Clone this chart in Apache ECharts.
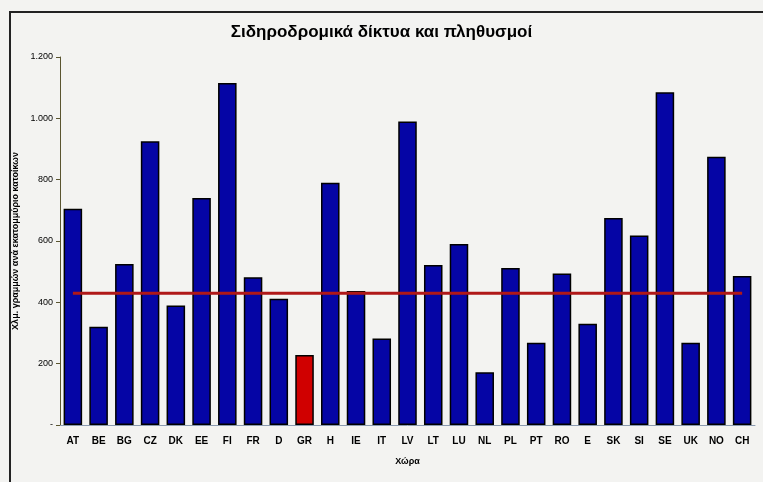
<!DOCTYPE html>
<html>
<head>
<meta charset="utf-8">
<script src="https://cdn.jsdelivr.net/npm/echarts@6/dist/echarts.min.js"></script>
<style>
  html, body { margin: 0; padding: 0; background: #f3f3f1; }
  #chart { width: 763px; height: 482px; }
</style>
</head>
<body>
<div id="chart"></div>
<script>
const countries = ['AT', 'BE', 'BG', 'CZ', 'DK', 'EE', 'FI', 'FR', 'D', 'GR', 'H', 'IE', 'IT', 'LV', 'LT', 'LU', 'NL', 'PL', 'PT', 'RO', 'E', 'SK', 'SI', 'SE', 'UK', 'NO', 'CH']
const railPerPop = [705, 320, 525, 925, 390, 740, 1115, 482, 412, 228, 790, 437, 282, 990, 522, 590, 172, 512, 268, 494, 330, 675, 618, 1085, 268, 875, 486]
const avgLine = [430, 430, 430, 430, 430, 430, 430, 430, 430, 430, 430, 430, 430, 430, 430, 430, 430, 430, 430, 430, 430, 430, 430, 430, 430, 430, 430]
const highlight = 'GR'

const chart = echarts.init(document.getElementById('chart'))

const option = {
  backgroundColor: '#f3f3f1',
  animation: false,
  title: {
    text: 'Σιδηροδρομικά δίκτυα και πληθυσμοί',
    left: 'center',
    top: 19,
    textStyle: { fontFamily: 'Liberation Sans', fontSize: 17, fontWeight: 'bold', color: '#000' }
  },
  graphic: [{
    type: 'rect',
    shape: { x: 10, y: 12, width: 800, height: 520 },
    style: { fill: 'none', stroke: '#222', lineWidth: 2 },
    silent: true
  }],
  grid: { left: 60, right: 8, top: 57, bottom: 57 },
  xAxis: {
    type: 'category',
    data: countries,
    name: 'Χώρα',
    nameLocation: 'middle',
    nameGap: 32,
    nameTextStyle: { fontFamily: 'Liberation Sans', fontSize: 9, fontWeight: 'bold', color: '#000' },
    axisTick: { show: false },
    axisLine: { lineStyle: { color: '#8a9ab0', width: 1 } },
    axisLabel: { fontFamily: 'Liberation Sans', fontSize: 10, fontWeight: 'bold', color: '#000', margin: 11 }
  },
  yAxis: {
    type: 'value',
    min: 0,
    max: 1200,
    interval: 200,
    name: 'Χλμ. γραμμών ανά εκατομμύριο κατοίκων',
    nameLocation: 'middle',
    nameRotate: 90,
    nameGap: 38,
    nameTextStyle: { fontFamily: 'Liberation Sans', fontSize: 9, fontWeight: 'bold', color: '#000' },
    splitLine: { show: false },
    axisLine: { show: true, lineStyle: { color: '#5a5530', width: 1 } },
    axisTick: { show: true, inside: false, length: 4, lineStyle: { color: '#5a5530' } },
    axisLabel: {
      fontFamily: 'Liberation Sans', fontSize: 9, color: '#000', margin: 7,
      formatter: v => v === 0 ? '-' : v.toLocaleString('de-DE')
    }
  },
  series: [
    {
      type: 'bar',
      barCategoryGap: '28%',
      data: railPerPop.map((v, i) => ({
        value: v,
        itemStyle: { color: countries[i] === highlight ? '#d00000' : '#0505a5' }
      })),
      itemStyle: { borderColor: '#000', borderWidth: 1.5 }
    },
    {
      type: 'line',
      data: avgLine,
      symbol: 'none',
      lineStyle: { color: '#b01818', width: 3 },
      z: 3
    }
  ]
}

chart.setOption(option)
window.addEventListener('resize', () => { chart.resize() })
</script>
</body>
</html>
